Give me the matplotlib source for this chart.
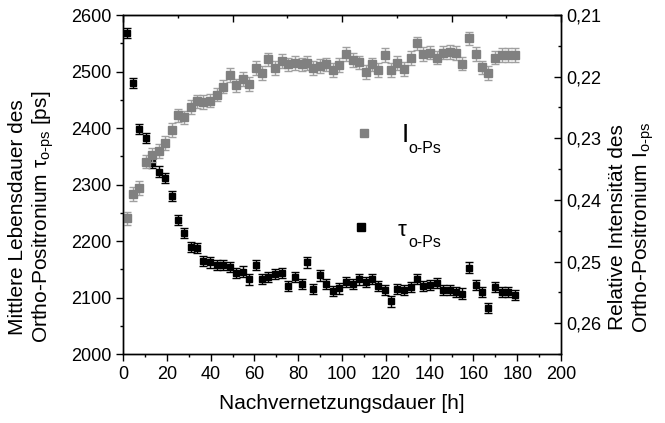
import matplotlib.pyplot as plt
from matplotlib.ticker import MultipleLocator, FuncFormatter

plt.rcParams['font.family'] = ['Liberation Sans', 'DejaVu Sans']
plt.rcParams['mathtext.fontset'] = 'custom'
plt.rcParams['mathtext.rm'] = 'Liberation Sans'
plt.rcParams['mathtext.it'] = 'Liberation Sans'
plt.rcParams['mathtext.bf'] = 'Liberation Sans:bold'

# post-curing time [h]
hours = [1.7, 4.7, 7.4, 10.4, 13.4, 16.3, 19.3, 22.2, 25.3, 28.0,
         31.1, 33.9, 36.7, 39.7, 43.1, 45.8, 48.9, 51.6, 54.7, 57.5,
         60.6, 63.6, 66.3, 69.4, 72.5, 75.5, 78.5, 81.6, 84.2, 86.9,
         90.0, 92.7, 96.0, 98.8, 101.8, 104.9, 107.9, 110.8, 113.8, 116.6,
         119.6, 122.4, 125.3, 128.3, 131.4, 134.1, 137.1, 140.2, 143.2, 146.3,
         149.3, 152.1, 154.9, 158.0, 161.0, 164.1, 166.8, 169.9, 172.9, 175.9,
         179.0]

# o-Ps lifetime [ps]
tau = [2568, 2479, 2398, 2383, 2338, 2323, 2312, 2280, 2237, 2214,
       2190, 2187, 2165, 2162, 2158, 2157, 2154, 2144, 2146, 2132,
       2158, 2133, 2137, 2141, 2143, 2121, 2136, 2124, 2162, 2115,
       2139, 2124, 2112, 2116, 2128, 2124, 2132, 2128, 2133, 2120,
       2113, 2093, 2115, 2113, 2118, 2133, 2121, 2122, 2125, 2113,
       2113, 2110, 2107, 2153, 2122, 2110, 2082, 2118, 2110, 2110,
       2104]

# o-Ps relative intensity
intensity = [0.2430, 0.2390, 0.2381, 0.2338, 0.2327, 0.2321, 0.2308, 0.2287, 0.2263, 0.2266,
             0.2249, 0.2240, 0.2241, 0.2239, 0.2229, 0.2216, 0.2197, 0.2214, 0.2204, 0.2212,
             0.2186, 0.2194, 0.2172, 0.2186, 0.2175, 0.2180, 0.2178, 0.2180, 0.2178, 0.2186,
             0.2183, 0.2180, 0.2189, 0.2181, 0.2163, 0.2173, 0.2177, 0.2192, 0.2180, 0.2189,
             0.2165, 0.2189, 0.2178, 0.2188, 0.2170, 0.2146, 0.2163, 0.2161, 0.2169, 0.2161,
             0.2160, 0.2162, 0.2179, 0.2138, 0.2163, 0.2185, 0.2194, 0.2169, 0.2165, 0.2165,
             0.2165]

tau_err = 9.0
int_err = 0.0011

gray = '#808080'

fig = plt.figure(figsize=(6.65, 4.23), dpi=100)
ax = fig.add_axes([0.185, 0.1631, 0.6586, 0.8014])

ax.errorbar(hours, tau, yerr=tau_err, fmt='s', ms=5, color='black',
            ecolor='black', elinewidth=1, capsize=3, capthick=1)
ax.set_xlim(0, 200)
ax.set_ylim(2000, 2600)
ax.xaxis.set_major_locator(MultipleLocator(20))
ax.xaxis.set_minor_locator(MultipleLocator(10))
ax.yaxis.set_major_locator(MultipleLocator(100))
ax.yaxis.set_minor_locator(MultipleLocator(50))
ax.tick_params(which='major', direction='out', length=5, width=1, labelsize=13)
ax.tick_params(which='minor', direction='out', length=2.5, width=1)
ax.tick_params(top=False, right=False)
ax.set_xlabel('Nachvernetzungsdauer [h]', fontsize=15, labelpad=8)

# top axis: inward ticks only
top = ax.secondary_xaxis('top')
top.xaxis.set_major_locator(MultipleLocator(50))
top.xaxis.set_minor_locator(MultipleLocator(25))
top.tick_params(which='major', direction='in', length=5, width=1, labeltop=False)
top.tick_params(which='minor', direction='in', length=2.5, width=1)

ax2 = ax.twinx()
ax2.errorbar(hours, intensity, yerr=int_err, fmt='s', ms=5.5, color=gray,
             ecolor='#a0a0a0', elinewidth=1, capsize=3, capthick=1)
ax2.set_ylim(0.265, 0.21)
ax2.yaxis.set_major_locator(MultipleLocator(0.01))
ax2.yaxis.set_minor_locator(MultipleLocator(0.005))
ax2.yaxis.set_major_formatter(FuncFormatter(lambda v, p: f'{v:.2f}'.replace('.', ',')))
ax2.tick_params(which='major', direction='in', length=5, width=1, labelsize=13)
ax2.tick_params(which='minor', direction='in', length=2.5, width=1)

for a in (ax, ax2):
    for s in a.spines.values():
        s.set_linewidth(1)

fig.text(32 / 665, 1 - 217 / 423,
         'Mittlere Lebensdauer des\nOrtho-Positronium $\\tau_{\\text{o-ps}}$ [ps]',
         rotation=90, ha='center', va='center', multialignment='center', fontsize=15)
fig.text(632 / 665, 1 - 227 / 423,
         'Relative Intensität des\nOrtho-Positronium I$_{\\text{o-ps}}$',
         rotation=90, ha='center', va='center', multialignment='center', fontsize=15)

# in-plot key
fig.add_artist(plt.Line2D([364 / 665], [1 - 133 / 423], marker='s', ms=5.5,
                          color=gray, transform=fig.transFigure))
fig.add_artist(plt.Line2D([361 / 665], [1 - 227 / 423], marker='s', ms=5.5,
                          color='black', transform=fig.transFigure))
fig.text(401.5 / 665, 1 - 142 / 423, 'I', fontsize=19, va='baseline')
fig.text(408 / 665, 1 - 153 / 423, 'o-Ps', fontsize=11.5, va='baseline')
fig.text(397.5 / 665, 1 - 236 / 423, 'τ', fontsize=16, va='baseline')
fig.text(408 / 665, 1 - 246.5 / 423, 'o-Ps', fontsize=11.5, va='baseline')

fig.savefig('out.png', dpi=100)
